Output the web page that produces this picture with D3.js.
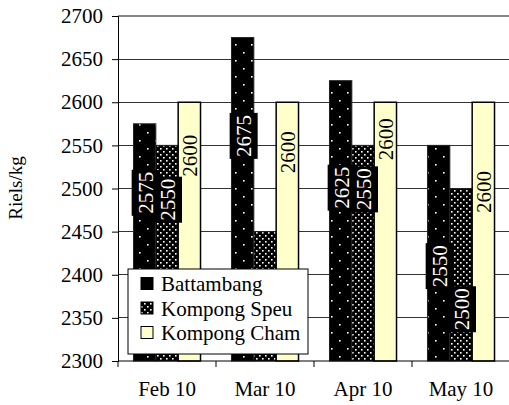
<!DOCTYPE html>
<html>
<head>
<meta charset="utf-8">
<script src="https://cdn.jsdelivr.net/npm/d3@7"></script>
<style>
  html, body { margin: 0; padding: 0; background: #fff; }
  svg { display: block; font-family: "Liberation Serif", "Times New Roman", serif; }
</style>
</head>
<body>
<svg id="chart" width="509" height="405"></svg>
<script>
const categories = ["Feb 10", "Mar 10", "Apr 10", "May 10"];
const seriesNames = ["Battambang", "Kompong Speu", "Kompong Cham"];
const battambang = [2575, 2675, 2625, 2550];
const kompongSpeu = [2550, 2450, 2550, 2500];
const kompongCham = [2600, 2600, 2600, 2600];
const yTicks = [2300, 2350, 2400, 2450, 2500, 2550, 2600, 2650, 2700];
// value (in Riels/kg units) where each data label is centred, as placed in the original
const labelAtBattambang = [2495, 2561, 2501, 2410];
const labelAtKompongSpeu = [2487, 2360, 2499, 2360];
const labelAtKompongCham = [2538, 2542, 2557, 2496];

(function () {
const series = [
  { name: seriesNames[0], values: battambang, labelAt: labelAtBattambang },
  { name: seriesNames[1], values: kompongSpeu, labelAt: labelAtKompongSpeu },
  { name: seriesNames[2], values: kompongCham, labelAt: labelAtKompongCham }
];

const svg = d3.select("#chart");
const mLeft = 118, mRight = 510, mTop = 16, mBottom = 361;

const defs = svg.append("defs");
const p1 = defs.append("pattern").attr("id", "patBatt").attr("patternUnits", "userSpaceOnUse")
  .attr("width", 16).attr("height", 16);
p1.append("rect").attr("width", 16).attr("height", 16).attr("fill", "#000");
p1.append("rect").attr("x", 3).attr("y", 4).attr("width", 1.6).attr("height", 1.6).attr("fill", "#fff");
p1.append("rect").attr("x", 11).attr("y", 12).attr("width", 1.6).attr("height", 1.6).attr("fill", "#fff");

const p2 = defs.append("pattern").attr("id", "patSpeu").attr("patternUnits", "userSpaceOnUse")
  .attr("width", 6).attr("height", 6);
p2.append("rect").attr("width", 6).attr("height", 6).attr("fill", "#000");
p2.append("rect").attr("x", 1).attr("y", 1).attr("width", 1.6).attr("height", 1.6).attr("fill", "#fff");
p2.append("rect").attr("x", 4).attr("y", 4).attr("width", 1.6).attr("height", 1.6).attr("fill", "#fff");

const fills = ["url(#patBatt)", "url(#patSpeu)", "#FFFFCC"];

const y = d3.scaleLinear().domain([2300, 2700]).range([mBottom, mTop]);
const x0 = d3.scaleBand().domain(categories).range([mLeft, mRight]).paddingInner(0.316).paddingOuter(0.158);
const x1 = d3.scaleBand().domain(seriesNames).range([0, x0.bandwidth()]);

// gridlines
svg.append("g").selectAll("line").data(yTicks.filter(t => t !== 2300 && t !== 2700)).join("line")
  .attr("x1", mLeft).attr("x2", 509).attr("y1", d => y(d)).attr("y2", d => y(d))
  .attr("stroke", "#333").attr("stroke-width", 1).attr("shape-rendering", "crispEdges");
svg.append("line").attr("x1", mLeft).attr("x2", 509).attr("y1", y(2700)).attr("y2", y(2700))
  .attr("stroke", "#888").attr("stroke-width", 2);

// bars
const groups = svg.append("g").selectAll("g").data(series).join("g");
groups.each(function(s, si) {
  d3.select(this).selectAll("rect").data(s.values).join("rect")
    .attr("x", (d, i) => x0(categories[i]) + x1(s.name))
    .attr("y", d => y(d))
    .attr("width", x1.bandwidth())
    .attr("height", d => y(2300) - y(d))
    .attr("fill", fills[si])
    .attr("stroke", si === 2 ? "#000" : "#222")
    .attr("stroke-width", si === 2 ? 1.5 : 1);
});

// axes
const yAxis = d3.axisLeft(y).tickValues(yTicks).tickSize(6).tickPadding(9).tickFormat(d3.format("d"));
const gy = svg.append("g").attr("transform", `translate(${mLeft},0)`).call(yAxis);
gy.select(".domain").attr("stroke", "#000");
gy.selectAll(".tick line").attr("stroke", "#000");
gy.selectAll(".tick text").attr("font-size", 21).attr("font-family", "Liberation Serif").attr("fill", "#000");

const gx = svg.append("g").attr("transform", `translate(0,${mBottom})`);
gx.append("line").attr("x1", mLeft).attr("x2", 509).attr("y1", 0).attr("y2", 0).attr("stroke", "#000");
categories.forEach((c, i) => {
  const bx = mLeft + i * x0.step();
  gx.append("line").attr("x1", bx).attr("x2", bx).attr("y1", 0).attr("y2", 6).attr("stroke", "#000");
  gx.append("text").attr("x", x0(c) + x0.bandwidth() / 2).attr("y", 35)
    .attr("text-anchor", "middle").attr("font-size", 21).text(c);
});

// y axis title
svg.append("text").attr("transform", "translate(22,188) rotate(-90)")
  .attr("text-anchor", "middle").attr("font-size", 19).text("Riels/kg");

// data labels
series.forEach((s, si) => {
  s.values.forEach((v, i) => {
    const cx = x0(categories[i]) + x1(s.name) + x1.bandwidth() / 2 + (si === 2 ? 0 : 1);
    const cy = y(s.labelAt[i]);
    const g = svg.append("g").attr("transform", `translate(${cx},${cy}) rotate(-90)`);
    if (si < 2) {
      g.append("rect").attr("x", -23).attr("y", -14).attr("width", 46).attr("height", 28).attr("fill", "#000");
    }
    g.append("text").attr("x", 0).attr("y", 0).attr("dy", "0.35em").attr("text-anchor", "middle")
      .attr("font-size", 21).attr("fill", si < 2 ? "#fff" : "#000").text(v);
  });
});

// legend
const lg = svg.append("g").attr("transform", "translate(128,269)");
lg.append("rect").attr("width", 180).attr("height", 85).attr("fill", "#fff").attr("stroke", "#000").attr("stroke-width", 1);
series.forEach((s, si) => {
  const cy = 15 + si * 24.5;
  lg.append("rect").attr("x", 13).attr("y", cy - 6.5).attr("width", 12).attr("height", 12)
    .attr("fill", fills[si]).attr("stroke", "#000").attr("stroke-width", 1);
  lg.append("text").attr("x", 33).attr("y", cy).attr("dy", "0.35em").attr("font-size", 21).text(s.name);
});
})();
</script>
</body>
</html>
